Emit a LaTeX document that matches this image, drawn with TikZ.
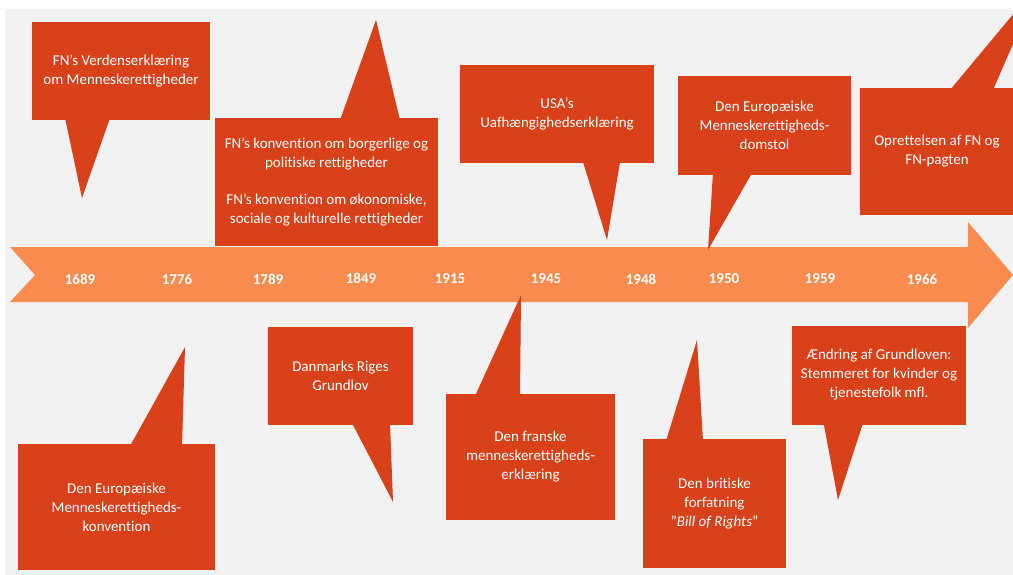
\documentclass[tikz,border=0pt]{standalone}
\usepackage{fontspec}
\setmainfont{Carlito}[Ligatures={NoCommon}]
\definecolor{calloutc}{HTML}{D84119}
\definecolor{arrowc}{HTML}{FA8C4F}
\definecolor{bgc}{HTML}{F2F2F2}
\begin{document}
\begin{tikzpicture}[x=1pt,y=-1pt,
  box/.style={fill=calloutc, draw=none, inner sep=0pt, text=white, align=center,
    font=\fontsize{15}{19}\selectfont},
  tail/.style={fill=calloutc, draw=none},
  year/.style={text=white, inner sep=0pt, font=\fontsize{15}{17}\selectfont\bfseries}]
\useasboundingbox (0,0) rectangle (1013,575);
\fill[white] (0,0) rectangle (1013,575);
\fill[bgc] (5,9) rectangle (1013,575);

% timeline arrow
\fill[arrowc] (10,247) -- (968,247) -- (968,222) -- (1013,275) -- (968,328) -- (968,302) -- (10,302) -- (35,275) -- cycle;

% years
\node[year] (y1689) at (80,279) {1689};
\node[year] (y1776) at (177,279) {1776};
\node[year] (y1789) at (268,279) {1789};
\node[year] (y1849) at (361,278) {1849};
\node[year] (y1915) at (450,279) {1915};
\node[year] (y1945) at (546,279) {1945};
\node[year] (y1948) at (641,279) {1948};
\node[year] (y1950) at (724,279) {1950};
\node[year] (y1959) at (820,279) {1959};
\node[year] (y1966) at (922,279) {1966};

% upper callouts
\fill[tail] (65,118) -- (82,198) -- (110,118) -- cycle;
\node[box, minimum width=178pt, minimum height=98pt] (fnv) at (121,71)
  {FN's Verdenserklæring\\om Menneskerettigheder};

\fill[tail] (340,120) -- (376,20) -- (400,120) -- cycle;
\node[box, minimum width=223pt, minimum height=127pt] (fnk) at (326.5,182)
  {FN's konvention om borgerlige og\\politiske rettigheder\\[18pt]FN's konvention om økonomiske,\\sociale og kulturelle rettigheder};

\fill[tail] (583,162) -- (607,240) -- (620,162) -- cycle;
\node[box, minimum width=194pt, minimum height=98pt] (usa) at (557,114)
  {USA's\\Uafhængighedserklæring};

\fill[tail] (713,173) -- (708,250) -- (752,173) -- cycle;
\node[box, minimum width=173pt, minimum height=99pt] (emd) at (764.5,125.5)
  {Den Europæiske\\Menneskerettigheds-\\domstol};

\fill[tail] (950,90) -- (1040,-18) -- (993,90) -- cycle;
\node[box, minimum width=154pt, minimum height=127pt] (fn) at (937,151.5)
  {Oprettelsen af FN og\\FN-pagten};

% lower callouts
\fill[tail] (130,446) -- (185,347) -- (182,446) -- cycle;
\node[box, minimum width=197pt, minimum height=126pt] (emk) at (116.5,507)
  {Den Europæiske\\Menneskerettigheds-\\konvention};

\fill[tail] (352,423) -- (393,502) -- (390,423) -- cycle;
\node[box, minimum width=145pt, minimum height=98pt] (dk) at (340.5,376)
  {Danmarks Riges\\Grundlov};

\fill[tail] (475,396) -- (521,295) -- (520,396) -- cycle;
\node[box, minimum width=169pt, minimum height=126pt] (fr) at (530.5,457)
  {Den franske\\menneskerettigheds-\\erklæring};

\fill[tail] (666,441) -- (697,340) -- (703,441) -- cycle;
\node[box, minimum width=143pt, minimum height=129pt] (uk) at (714.5,503.5)
  {Den britiske\\forfatning\\"\textit{Bill of Rights}"};

\fill[tail] (823,420) -- (838,500) -- (864,420) -- cycle;
\node[box, minimum width=174pt, minimum height=99pt] (gl) at (879,375)
  {Ændring af Grundloven:\\Stemmeret for kvinder og\\tjenestefolk mfl.};
\end{tikzpicture}
\end{document}
